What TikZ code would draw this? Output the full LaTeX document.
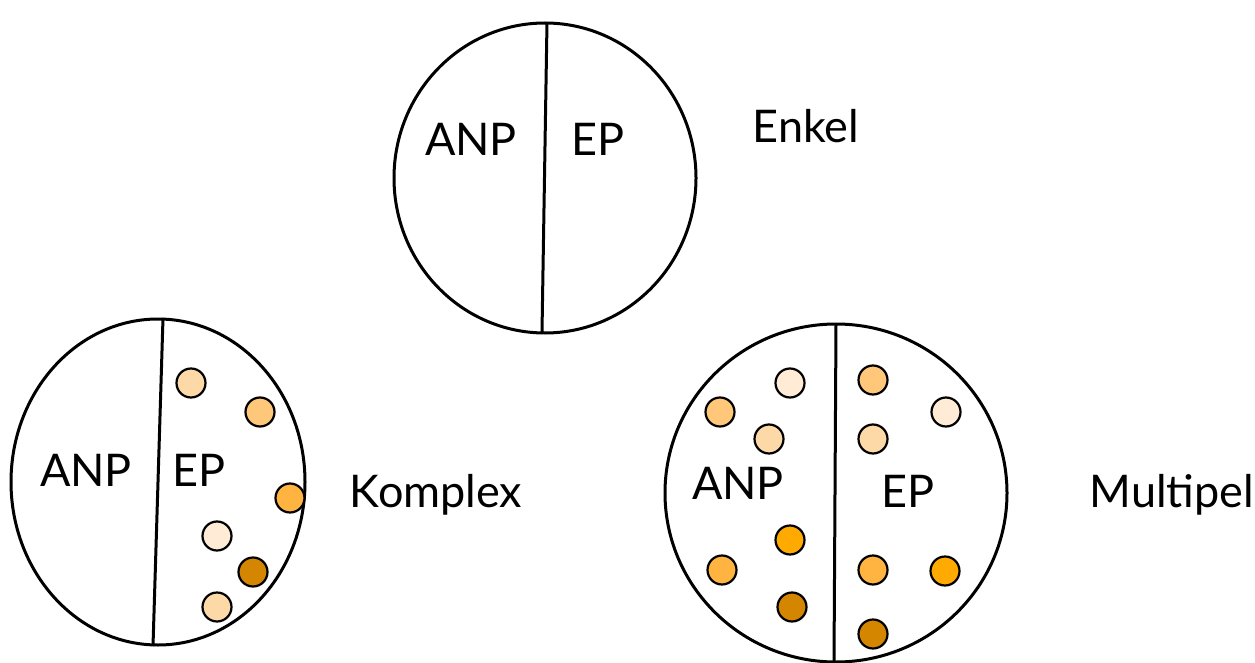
\documentclass[tikz,border=0pt]{standalone}
\usepackage{fontspec}
\setmainfont{Lato}
\definecolor{cream}{HTML}{FFEBD6}
\definecolor{peach}{HTML}{FDD9A8}
\definecolor{lightorange}{HTML}{FFC77A}
\definecolor{midorange}{HTML}{FFB340}
\definecolor{deeporange}{HTML}{FFAA00}
\definecolor{brownorange}{HTML}{D48600}
\tikzset{
  part/.style={line width=3pt},
  lbl/.style={anchor=base, font=\fontsize{45}{54}\selectfont},
  dot/.style={draw, line width=2.2pt, fill=#1}
}
\begin{document}
\begin{tikzpicture}[x=1pt, y=-1pt]
            \useasboundingbox (0, 0) rectangle (1255, 663);
            % Enkel
            \draw[part] (545, 178) ellipse [x radius=151, y radius=155];
            \draw[part] (547, 22) -- (542, 332);
            \node[lbl] (anp1) at (471, 156) {ANP};
            \node[lbl] (ep1) at (598, 156) {EP};
            \node[lbl] (enkel) at (806, 143) {Enkel};
            % Komplex
            \draw[part] (158, 482) ellipse [x radius=147, y radius=163];
            \draw[part] (163, 318) -- (153, 646);
            \node[lbl] (anp2) at (86, 486) {ANP};
            \node[lbl] (ep2) at (199, 486) {EP};
            \node[lbl] (komplex) at (436, 507) {Komplex};
            \foreach \x/\y/\c in {191/383/peach, 260/412/lightorange, 290/498/midorange,
                                  217/536/cream, 253/572/brownorange, 217/607/peach}
              \draw[dot=\c] (\x, \y) circle (14.5);
            % Multipel
            \draw[part] (836, 493) ellipse [x radius=171, y radius=169];
            \draw[part] (836, 324) -- (834, 662);
            \node[lbl] (anp3) at (738, 499) {ANP};
            \node[lbl] (ep3) at (908, 507) {EP};
            \node[lbl] (multipel) at (1172, 507) {Multipel};
            \foreach \x/\y/\c in {790/383/cream, 720/412/lightorange, 769/439/peach,
                                  790/540/deeporange, 722/570/midorange, 792/607/brownorange,
                                  873/380/lightorange, 946/412/cream, 873/439/peach,
                                  873/570/midorange, 945/571/deeporange, 873/634/brownorange}
              \draw[dot=\c] (\x, \y) circle (14.5);
\end{tikzpicture}
\end{document}
